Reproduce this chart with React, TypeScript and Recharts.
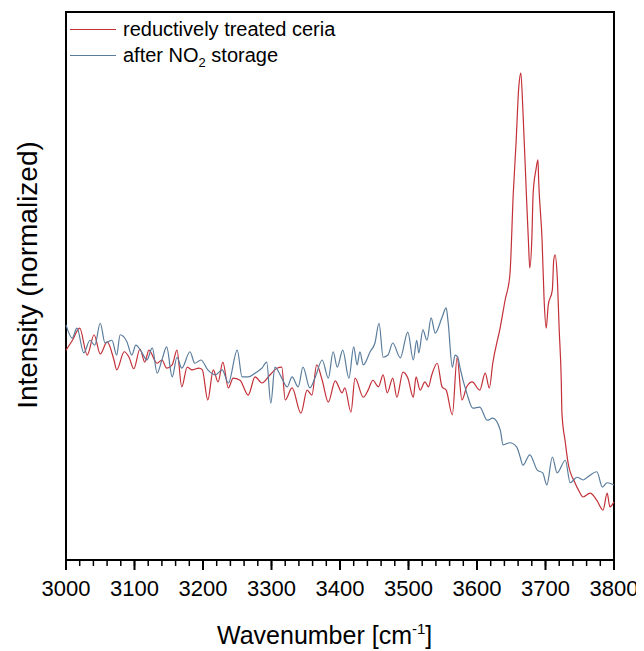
import { Line, LineChart, ReferenceArea, XAxis, YAxis } from 'recharts'

// wavenumber axis, cm^-1 (labelled every 100, minor ticks every 20)
const xTicks = [
  3000, 3020, 3040, 3060, 3080, 3100, 3120, 3140, 3160, 3180, 3200, 3220, 3240, 3260,
  3280, 3300, 3320, 3340, 3360, 3380, 3400, 3420, 3440, 3460, 3480, 3500, 3520, 3540,
  3560, 3580, 3600, 3620, 3640, 3660, 3680, 3700, 3720, 3740, 3760, 3780, 3800,
]

// reductively treated ceria
const redWavenumbers = [
  3000, 3009, 3020, 3031, 3041, 3050, 3060, 3070, 3074, 3085, 3092, 3099, 3108, 3115,
  3121, 3133, 3140, 3147, 3155, 3162, 3169, 3177, 3184, 3194, 3199, 3207, 3215, 3222,
  3229, 3237, 3244, 3254, 3266, 3276, 3286, 3298, 3308, 3315, 3320, 3330, 3343, 3352,
  3359, 3366, 3374, 3383, 3393, 3403, 3407, 3416, 3422, 3434, 3441, 3448, 3456, 3463,
  3469, 3477, 3483, 3492, 3499, 3507, 3511, 3517, 3524, 3529, 3534, 3542, 3549, 3555,
  3564, 3571, 3578, 3585, 3593, 3604, 3612, 3618, 3623, 3634, 3641, 3648, 3653, 3657,
  3661, 3664, 3667, 3672, 3675, 3677, 3680, 3682, 3686, 3689, 3690, 3695, 3698, 3701,
  3704, 3710, 3712, 3714, 3717, 3720, 3723, 3724, 3729, 3733, 3743, 3748, 3755, 3765,
  3775, 3784, 3790, 3794, 3800,
]
const redIntensity = [
  0.383, 0.4, 0.423, 0.374, 0.411, 0.376, 0.398, 0.365, 0.347, 0.38, 0.37, 0.349, 0.385, 0.361,
  0.383, 0.359, 0.365, 0.35, 0.356, 0.383, 0.316, 0.352, 0.347, 0.35, 0.347, 0.292, 0.347, 0.325,
  0.361, 0.314, 0.332, 0.328, 0.301, 0.334, 0.323, 0.338, 0.35, 0.352, 0.292, 0.314, 0.268, 0.31,
  0.301, 0.356, 0.328, 0.288, 0.327, 0.305, 0.314, 0.27, 0.332, 0.297, 0.31, 0.328, 0.316, 0.338,
  0.305, 0.332, 0.297, 0.343, 0.332, 0.297, 0.334, 0.31, 0.325, 0.316, 0.338, 0.359, 0.316, 0.31,
  0.265, 0.37, 0.292, 0.316, 0.325, 0.31, 0.341, 0.314, 0.359, 0.425, 0.474, 0.52, 0.67, 0.761,
  0.863, 0.889, 0.821, 0.67, 0.584, 0.533, 0.584, 0.67, 0.712, 0.73, 0.693, 0.584, 0.474, 0.423,
  0.465, 0.493, 0.547, 0.557, 0.52, 0.42, 0.328, 0.268, 0.214, 0.177, 0.141, 0.128, 0.115, 0.122,
  0.109, 0.091, 0.122, 0.097, 0.106,
]

// after NO2 storage
const blueWavenumbers = [
  3000, 3009, 3016, 3026, 3035, 3042, 3050, 3057, 3067, 3074, 3079, 3089, 3096, 3102,
  3111, 3118, 3126, 3133, 3140, 3147, 3155, 3162, 3169, 3181, 3188, 3197, 3207, 3218,
  3228, 3237, 3250, 3257, 3266, 3276, 3286, 3293, 3299, 3305, 3315, 3323, 3330, 3339,
  3346, 3356, 3364, 3374, 3383, 3390, 3396, 3404, 3413, 3420, 3425, 3429, 3434, 3444,
  3451, 3457, 3463, 3470, 3477, 3488, 3499, 3507, 3512, 3515, 3521, 3527, 3533, 3539,
  3549, 3555, 3558, 3564, 3568, 3572, 3575, 3585, 3594, 3604, 3615, 3623, 3634, 3638,
  3648, 3658, 3663, 3667, 3677, 3688, 3696, 3702, 3710, 3717, 3729, 3736, 3746, 3755,
  3761, 3775, 3783, 3790, 3800,
]
const blueIntensity = [
  0.429, 0.405, 0.423, 0.378, 0.401, 0.392, 0.432, 0.396, 0.401, 0.374, 0.411, 0.398, 0.374, 0.392,
  0.378, 0.365, 0.387, 0.341, 0.365, 0.389, 0.334, 0.37, 0.35, 0.38, 0.359, 0.365, 0.347, 0.338,
  0.347, 0.323, 0.383, 0.334, 0.334, 0.341, 0.35, 0.361, 0.286, 0.352, 0.332, 0.316, 0.334, 0.316,
  0.352, 0.314, 0.334, 0.365, 0.332, 0.38, 0.352, 0.383, 0.332, 0.389, 0.356, 0.38, 0.356, 0.38,
  0.396, 0.432, 0.37, 0.374, 0.396, 0.369, 0.416, 0.365, 0.401, 0.378, 0.42, 0.401, 0.442, 0.414,
  0.443, 0.46, 0.432, 0.352, 0.374, 0.37, 0.352, 0.305, 0.277, 0.279, 0.255, 0.259, 0.237, 0.21,
  0.214, 0.206, 0.188, 0.173, 0.192, 0.164, 0.159, 0.137, 0.188, 0.159, 0.182, 0.141, 0.151, 0.146,
  0.151, 0.161, 0.133, 0.141, 0.137,
]

const RED = '#c33038'
const BLUE = '#5a7c9c'
const FONT = '"Liberation Sans", Arial, sans-serif'

const redSpectrum = redWavenumbers.map((wn, i) => ({ wn, intensity: redIntensity[i] }))
const blueSpectrum = blueWavenumbers.map((wn, i) => ({ wn, intensity: blueIntensity[i] }))

// tickLine draws the short 6px marks; majors get extended and labelled here
const WavenumberTick = (props: any) => {
  const { x, y, payload } = props
  if (payload.value % 100 !== 0) return null
  return (
    <g>
      <line x1={x} y1={y - 6} x2={x} y2={y + 4} stroke="#000" strokeWidth={2} />
      <text x={x} y={y + 30} textAnchor="middle" fontSize={22} fontFamily={FONT} fill="#000">
        {payload.value}
      </text>
    </g>
  )
}

const XTitle = (props: any) => {
  const { viewBox } = props
  return (
    <text x={viewBox.x + 151} y={viewBox.y + 84} fontSize={25} fontFamily={FONT} fill="#000">
      Wavenumber [cm
      <tspan dy={-10} fontSize={15}>-1</tspan>
      <tspan dy={10}>]</tspan>
    </text>
  )
}

const YTitle = () => (
  <text
    x={29}
    y={267}
    transform="rotate(-90, 29, 267)"
    textAnchor="middle"
    fontSize={28}
    fontFamily={FONT}
    fill="#000"
  >
    Intensity (normalized)
  </text>
)

export default function App() {
  return (
    <div style={{ position: 'relative', width: 636, height: 643, fontFamily: FONT }}>
      <LineChart width={636} height={643} margin={{ top: 4, right: 30, left: 0, bottom: 0 }}>
        <XAxis
          dataKey="wn"
          type="number"
          domain={[3000, 3800]}
          ticks={xTicks}
          interval={0}
          height={91}
          stroke="#000"
          tickSize={6}
          tickMargin={0}
          tickLine={{ stroke: '#000', strokeWidth: 1.5 }}
          tick={<WavenumberTick />}
          axisLine={false}
          label={{ content: <XTitle /> }}
        />
        <YAxis
          type="number"
          domain={[0, 1]}
          width={58}
          tick={false}
          tickLine={false}
          axisLine={false}
          label={{ content: <YTitle /> }}
        />
        <ReferenceArea x1={3000} x2={3800} y1={0} y2={1} fill="none" stroke="#000" strokeWidth={2} fillOpacity={0} />
        <Line
          data={redSpectrum}
          dataKey="intensity"
          type="monotone"
          stroke={RED}
          strokeWidth={1.2}
          dot={false}
          isAnimationActive={false}
          name="reductively treated ceria"
        />
        <Line
          data={blueSpectrum}
          dataKey="intensity"
          type="monotone"
          stroke={BLUE}
          strokeWidth={1.2}
          dot={false}
          isAnimationActive={false}
          name="after NO2 storage"
        />
      </LineChart>
      <div style={{ position: 'absolute', left: 62, top: 11, fontSize: 20, color: '#000', lineHeight: '20px' }}>
        <div style={{ display: 'flex', alignItems: 'center', height: 20 }}>
          <div style={{ width: 46, height: 1, background: RED, marginRight: 7 }} />
          <span>reductively treated ceria</span>
        </div>
        <div style={{ display: 'flex', alignItems: 'center', height: 20, marginTop: 6 }}>
          <div style={{ width: 46, height: 1, background: BLUE, marginRight: 7 }} />
          <span>
            after NO<sub style={{ fontSize: 13, lineHeight: 0 }}>2</sub> storage
          </span>
        </div>
      </div>
    </div>
  )
}
